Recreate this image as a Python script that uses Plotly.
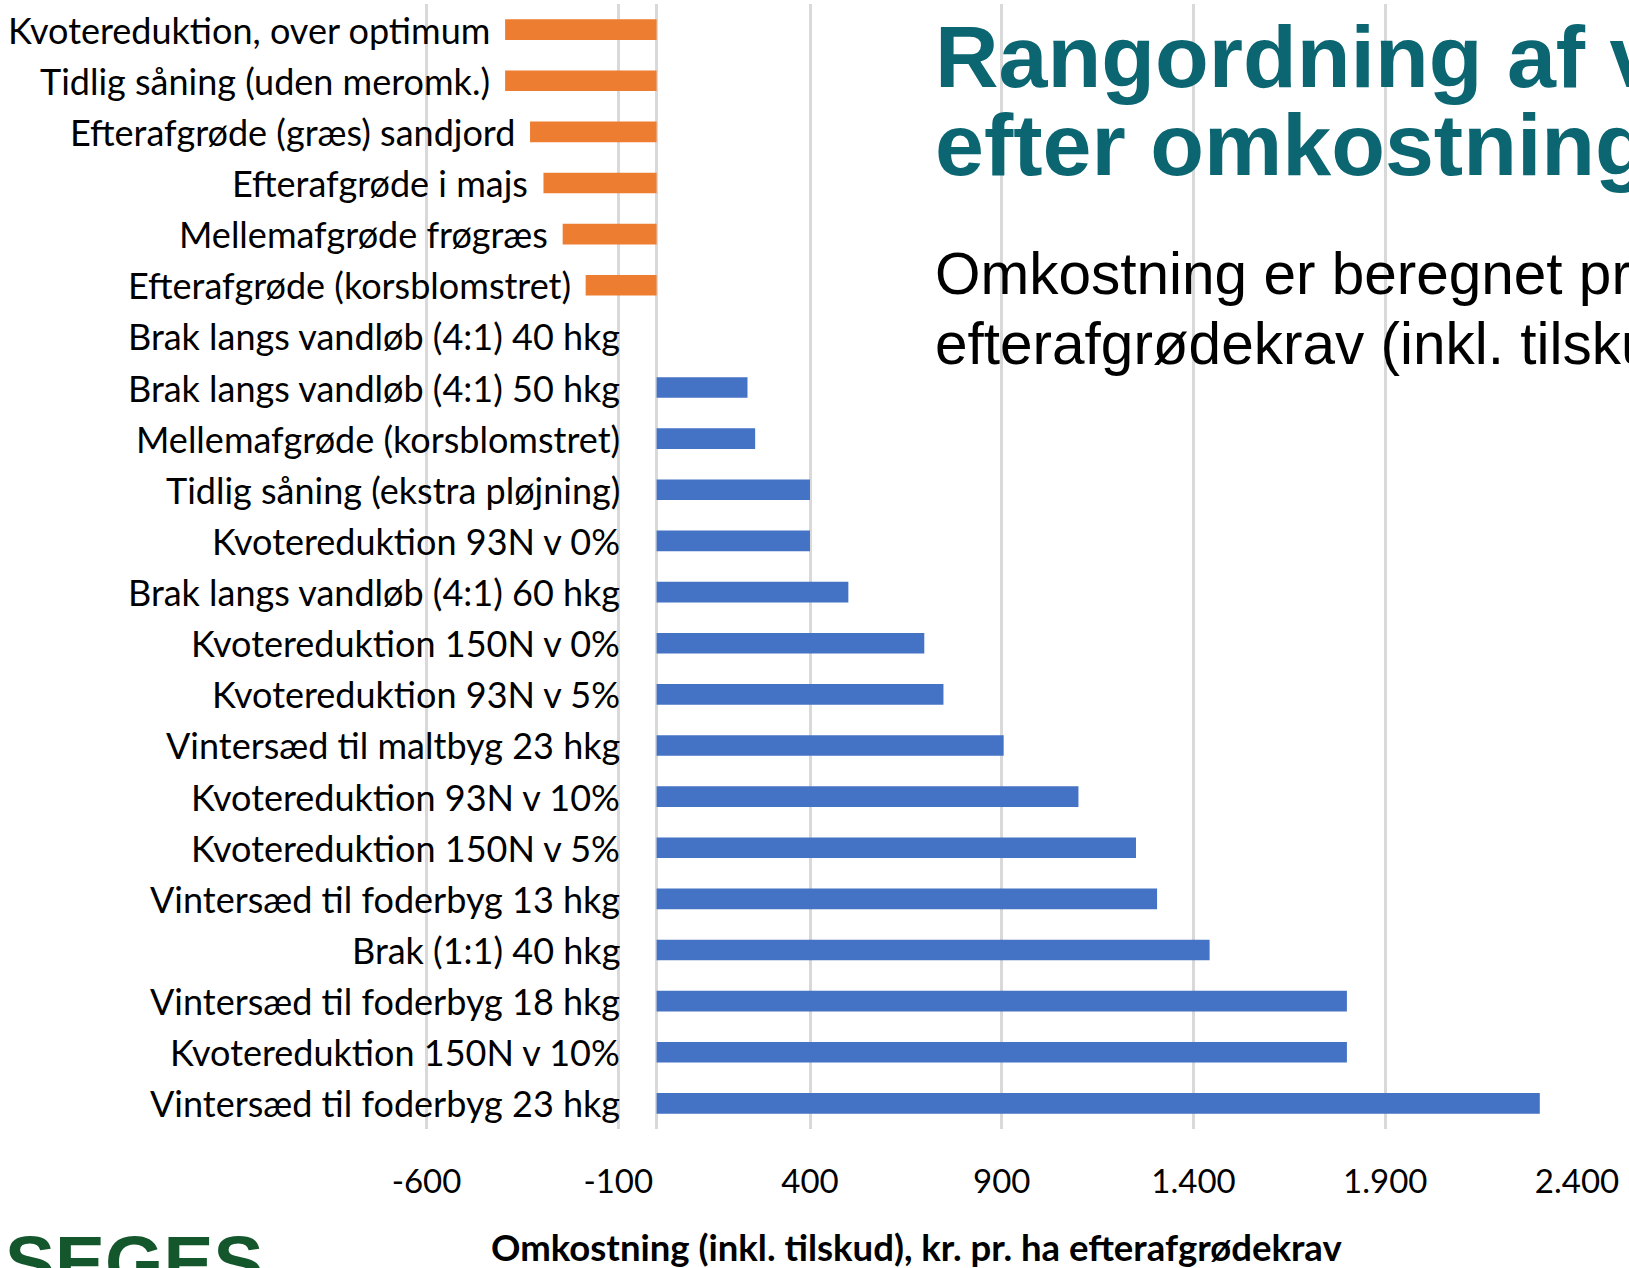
import plotly.graph_objects as go

# Data (kr. pr. ha efterafgrødekrav, inkl. tilskud)
categories = [
    "Kvotereduktion, over optimum",
    "Tidlig såning (uden meromk.)",
    "Efterafgrøde (græs) sandjord",
    "Efterafgrøde i majs",
    "Mellemafgrøde frøgræs",
    "Efterafgrøde (korsblomstret)",
    "Brak langs vandløb (4:1) 40 hkg",
    "Brak langs vandløb (4:1) 50 hkg",
    "Mellemafgrøde (korsblomstret)",
    "Tidlig såning (ekstra pløjning)",
    "Kvotereduktion 93N v 0%",
    "Brak langs vandløb (4:1) 60 hkg",
    "Kvotereduktion 150N v 0%",
    "Kvotereduktion 93N v 5%",
    "Vintersæd til maltbyg 23 hkg",
    "Kvotereduktion 93N v 10%",
    "Kvotereduktion 150N v 5%",
    "Vintersæd til foderbyg 13 hkg",
    "Brak (1:1) 40 hkg",
    "Vintersæd til foderbyg 18 hkg",
    "Kvotereduktion 150N v 10%",
    "Vintersæd til foderbyg 23 hkg",
]
costs = [
    -395, -395, -330, -295, -245, -185,
    0, 237, 257, 400, 400, 500, 698, 748,
    905, 1100, 1250, 1305, 1442, 1800, 1800, 2303,
]
tick_vals = [-600, -100, 400, 900, 1400, 1900, 2400]
tick_text = ["-600", "-100", "400", "900", "1.400", "1.900", "2.400"]

title_lines = ["Rangordning af virkemidler", "efter omkostninger"]
subtitle_lines = ["Omkostning er beregnet pr. ha", "efterafgrødekrav (inkl. tilskud)"]
x_title = "Omkostning (inkl. tilskud), kr. pr. ha efterafgrødekrav"

W, H = 1629, 1268
# plot starts a bit left of the -600 gridline so that line is not on the edge
ML, MR, MT, MB = 415, 52, 4, 139
PLOT_W = W - ML - MR
PLOT_H = H - MT - MB

ORANGE = "#ED7D31"
BLUE = "#4472C4"
GRID = "#D9D9D9"
TEAL = "#0B6672"
LABEL_FONT = "Lato, sans-serif"
ARIAL = "Liberation Sans, Arial, sans-serif"


def px_x(px):
    return (px - ML) / PLOT_W


def px_y(py):
    return (H - MB - py) / PLOT_H


colors = [ORANGE if v < 0 else BLUE for v in costs]

fig = go.Figure(
    go.Bar(
        x=costs,
        y=categories,
        orientation="h",
        marker=dict(color=colors, line=dict(width=0)),
        hoverinfo="x+y",
    )
)

annotations = []
for cat, v in zip(categories, costs):
    annotations.append(
        dict(
            x=min(v, 0),
            y=cat,
            xref="x",
            yref="y",
            text=cat,
            showarrow=False,
            xanchor="right",
            yanchor="middle",
            xshift=-13 if v < 0 else -35,
            font=dict(family=LABEL_FONT, size=36, color="#000000"),
        )
    )

for i, line in enumerate(title_lines):
    annotations.append(
        dict(
            x=px_x(933), y=px_y(57 + 88 * i), xref="paper", yref="paper",
            text=f"<b>{line}</b>", showarrow=False,
            xanchor="left", yanchor="middle",
            font=dict(family=ARIAL, size=88, color=TEAL),
        )
    )

for i, line in enumerate(subtitle_lines):
    annotations.append(
        dict(
            x=px_x(933), y=px_y(273 + 70 * i), xref="paper", yref="paper",
            text=line, showarrow=False,
            xanchor="left", yanchor="middle",
            font=dict(family=ARIAL, size=58.5, color="#000000"),
        )
    )

annotations.append(
    dict(
        x=px_x(916), y=px_y(1247), xref="paper", yref="paper",
        text=f"<b>{x_title}</b>", showarrow=False,
        xanchor="center", yanchor="middle",
        font=dict(family=LABEL_FONT, size=36.5, color="#000000"),
    )
)

annotations.append(
    dict(
        x=px_x(3), y=px_y(1262), xref="paper", yref="paper",
        text="<b>SEGES</b>", showarrow=False,
        xanchor="left", yanchor="middle",
        font=dict(family=ARIAL, size=75, color="#14572C"),
    )
)

# extra copy of the first gridline, in case plotly drops it
first_grid = dict(
    type="line", xref="x", yref="paper",
    x0=tick_vals[0], x1=tick_vals[0], y0=0, y1=1,
    line=dict(color=GRID, width=2.5), layer="between",
)

fig.update_layout(
    width=W,
    height=H,
    margin=dict(l=ML, r=MR, t=MT, b=MB, pad=0),
    paper_bgcolor="white",
    plot_bgcolor="white",
    showlegend=False,
    bargap=0.596,
    annotations=annotations,
    shapes=[first_grid],
    xaxis=dict(
        range=[-630, 2400],
        tickvals=tick_vals,
        ticktext=tick_text,
        showgrid=True,
        gridcolor=GRID,
        gridwidth=2.5,
        zeroline=True,
        zerolinecolor=GRID,
        zerolinewidth=2.5,
        showline=False,
        ticks="",
        ticklabelstandoff=30,
        tickfont=dict(family=LABEL_FONT, size=33, color="#000000"),
    ),
    yaxis=dict(
        categoryorder="array",
        categoryarray=categories,
        autorange="reversed",
        showticklabels=False,
        showgrid=False,
        zeroline=False,
        showline=False,
        ticks="",
    ),
)

fig.write_html(
    "out.html",
    config={"displayModeBar": False},
    post_script="document.body.style.margin='0';document.body.style.overflow='hidden';",
)
